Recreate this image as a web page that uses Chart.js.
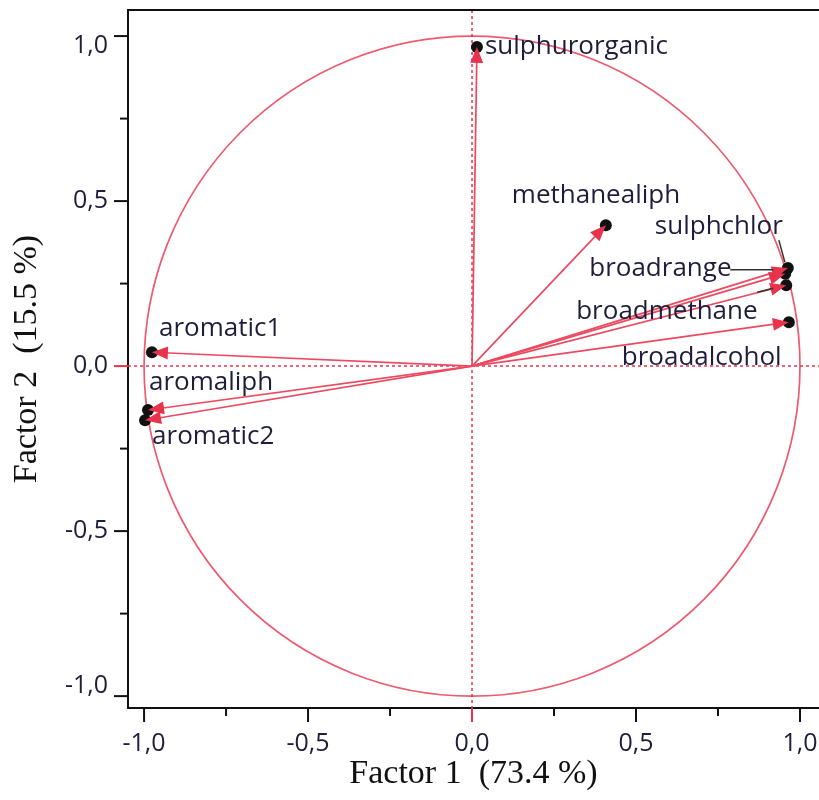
<!DOCTYPE html>
<html>
<head>
<meta charset="utf-8">
<script src="https://cdn.jsdelivr.net/npm/chart.js@4.4.0/dist/chart.umd.min.js"></script>
<style>
  html, body { margin: 0; padding: 0; background: #fff; overflow: hidden; }
  #wrap { width: 819px; height: 800px; }
</style>
</head>
<body>
<div id="wrap"><canvas id="pcaChart" width="819" height="800"></canvas></div>
<script>
// Variable loadings
const variableNames = ['sulphurorganic', 'methanealiph', 'sulphchlor', 'broadrange', 'broadmethane', 'broadalcohol', 'aromatic1', 'aromaliph', 'aromatic2'];
const factor1 = [0.015, 0.408, 0.963, 0.955, 0.958, 0.966, -0.976, -0.988, -0.997];
const factor2 = [0.967, 0.427, 0.297, 0.280, 0.245, 0.133, 0.042, -0.133, -0.164];

// Axis ticks (major ones carry a label, minor ones are blank)
const tickValues = [-1, -0.75, -0.5, -0.25, 0, 0.25, 0.5, 0.75, 1];
const tickLabels = ['-1,0', '', '-0,5', '', '0,0', '', '0,5', '', '1,0'];
const xTitle = 'Factor 1  (73.4 %)';
const yTitle = 'Factor 2  (15.5 %)';

// Label placement in pixels relative to the point (text left edge, vertical middle)
const labelOffsets = {
    sulphurorganic: [8, 0],
    methanealiph: [-94, -30],
    sulphchlor: [-133, -41],
    broadrange: [-196, -5],
    broadmethane: [-210, 26],
    broadalcohol: [-167, 35],
    aromatic1: [7, -24],
    aromaliph: [1, -27],
    aromatic2: [7, 16]
};
// Little black leader lines for the crowded labels [x1, y1, x2, y2] relative to point
const leaderLines = {
    sulphchlor: [-9, -28, -3, -6],
    broadrange: [-55, -4, -12, -4],
    broadmethane: [-29, 7, -13, 3]
};

const RED = '#e8334d';
const SHAFT_RED = '#ec4a60';
const CIRCLE_RED = '#ee5a6e';
const TEXT = '#1e1e3c';

function tickText(value) {
    const i = tickValues.findIndex(v => Math.abs(v - value) < 1e-6);
    return i >= 0 ? tickLabels[i] : '';
}
// the end labels of the y axis sit inside the frame, so push them half a line in
function yTickText(value) {
    const t = tickText(value);
    if (value > 0.99) return ['', t];
    if (value < -0.99) return [t, ''];
    return t;
}

const decorPlugin = {
    id: 'pcaDecor',
    beforeDatasetsDraw(chart) {
        const ctx = chart.ctx;
        const xs = chart.scales.x, ys = chart.scales.y;
        const area = chart.chartArea;
        const x0 = xs.getPixelForValue(0), y0 = ys.getPixelForValue(0);
        ctx.save();
        // unit circle
        ctx.strokeStyle = CIRCLE_RED;
        ctx.lineWidth = 1.7;
        ctx.beginPath();
        ctx.ellipse(x0, y0, xs.getPixelForValue(1) - x0, y0 - ys.getPixelForValue(1), 0, 0, Math.PI * 2);
        ctx.stroke();
        // dotted zero lines
        ctx.strokeStyle = RED;
        ctx.lineWidth = 1.5;
        ctx.setLineDash([3, 3]);
        ctx.beginPath();
        ctx.moveTo(area.left, y0); ctx.lineTo(area.right, y0);
        ctx.moveTo(x0, area.top); ctx.lineTo(x0, area.bottom);
        ctx.stroke();
        ctx.setLineDash([]);
        // arrow shafts
        ctx.strokeStyle = SHAFT_RED;
        ctx.lineWidth = 1.7;
        for (let i = 0; i < factor1.length; i++) {
            ctx.beginPath();
            ctx.moveTo(x0, y0);
            ctx.lineTo(xs.getPixelForValue(factor1[i]), ys.getPixelForValue(factor2[i]));
            ctx.stroke();
        }
        ctx.restore();
    },
    afterDatasetsDraw(chart) {
        const ctx = chart.ctx;
        const xs = chart.scales.x, ys = chart.scales.y;
        const x0 = xs.getPixelForValue(0), y0 = ys.getPixelForValue(0);
        ctx.save();
        // arrow heads
        ctx.fillStyle = RED;
        for (let i = 0; i < factor1.length; i++) {
            const px = xs.getPixelForValue(factor1[i]);
            const py = ys.getPixelForValue(factor2[i]);
            const ang = Math.atan2(py - y0, px - x0);
            const len = 16, half = 6.5;
            ctx.beginPath();
            ctx.moveTo(px, py);
            ctx.lineTo(px - len * Math.cos(ang) + half * Math.sin(ang), py - len * Math.sin(ang) - half * Math.cos(ang));
            ctx.lineTo(px - len * Math.cos(ang) - half * Math.sin(ang), py - len * Math.sin(ang) + half * Math.cos(ang));
            ctx.closePath();
            ctx.fill();
        }
        // leader lines
        ctx.strokeStyle = '#333';
        ctx.lineWidth = 1.5;
        variableNames.forEach((name, i) => {
            const l = leaderLines[name];
            if (!l) return;
            const px = xs.getPixelForValue(factor1[i]);
            const py = ys.getPixelForValue(factor2[i]);
            ctx.beginPath();
            ctx.moveTo(px + l[0], py + l[1]);
            ctx.lineTo(px + l[2], py + l[3]);
            ctx.stroke();
        });
        // variable labels
        ctx.font = '26px "Open Sans"';
        ctx.fillStyle = TEXT;
        ctx.textAlign = 'left';
        ctx.textBaseline = 'middle';
        variableNames.forEach((name, i) => {
            const off = labelOffsets[name];
            ctx.fillText(name, xs.getPixelForValue(factor1[i]) + off[0], ys.getPixelForValue(factor2[i]) + off[1]);
        });
        ctx.restore();
    },
    afterDraw(chart) {
        const ctx = chart.ctx;
        const xs = chart.scales.x, ys = chart.scales.y;
        const area = chart.chartArea;
        ctx.save();
        // top frame line
        ctx.strokeStyle = '#111';
        ctx.lineWidth = 2;
        ctx.beginPath();
        ctx.moveTo(area.left, area.top);
        ctx.lineTo(area.right + 2, area.top);
        ctx.stroke();
        // tick marks
        tickValues.forEach((v, i) => {
            const major = tickLabels[i] !== '';
            const len = major ? 14 : 8;
            ctx.strokeStyle = v === 0 ? RED : '#111';
            const py = ys.getPixelForValue(v);
            ctx.beginPath();
            ctx.moveTo(area.left - len, py); ctx.lineTo(area.left, py);
            ctx.stroke();
            const px = xs.getPixelForValue(v);
            ctx.beginPath();
            ctx.moveTo(px, area.bottom); ctx.lineTo(px, area.bottom + len);
            ctx.stroke();
        });
        ctx.restore();
    }
};

const titleFont = { family: 'Liberation Serif', size: 34 };

function noSidePadding(scale) {
    scale.paddingLeft = 0;
    scale.paddingRight = 0;
}
function noEndPadding(scale) {
    scale.paddingTop = 0;
    scale.paddingBottom = 0;
}

new Chart(document.getElementById('pcaChart'), {
    type: 'scatter',
    data: {
        datasets: [{
            data: factor1.map((v, i) => ({ x: v, y: factor2[i] })),
            backgroundColor: '#111',
            borderWidth: 0,
            pointRadius: 6
        }]
    },
    options: {
        responsive: false,
        animation: false,
        layout: { autoPadding: false, padding: { top: 10, left: 0, right: 0, bottom: 0 } },
        plugins: { legend: { display: false }, tooltip: { enabled: false } },
        scales: {
            x: {
                min: -1.049,
                max: 1.058,
                grid: { display: false },
                border: { display: true, color: '#111', width: 2 },
                ticks: {
                    stepSize: 0.25,
                    includeBounds: false,
                    autoSkip: false,
                    maxRotation: 0,
                    padding: 13,
                    color: TEXT,
                    font: { family: 'Open Sans', size: 25 },
                    callback: tickText
                },
                title: { display: true, text: xTitle, color: '#111', font: titleFont, padding: { top: 0, bottom: 6 } },
                afterFit(scale) {
                    scale.height = 92;
                    noSidePadding(scale);
                }
            },
            y: {
                min: -1.036,
                max: 1.079,
                grid: { display: false },
                border: { display: true, color: '#111', width: 2 },
                ticks: {
                    stepSize: 0.25,
                    includeBounds: false,
                    autoSkip: false,
                    padding: 12,
                    color: TEXT,
                    font: { family: 'Open Sans', size: 25, lineHeight: 0.8 },
                    callback: yTickText
                },
                title: { display: true, text: yTitle, color: '#111', font: titleFont, padding: { top: 7, bottom: 0 } },
                afterFit(scale) {
                    scale.width = 128;
                    noEndPadding(scale);
                }
            }
        }
    },
    plugins: [decorPlugin]
});
</script>
</body>
</html>
